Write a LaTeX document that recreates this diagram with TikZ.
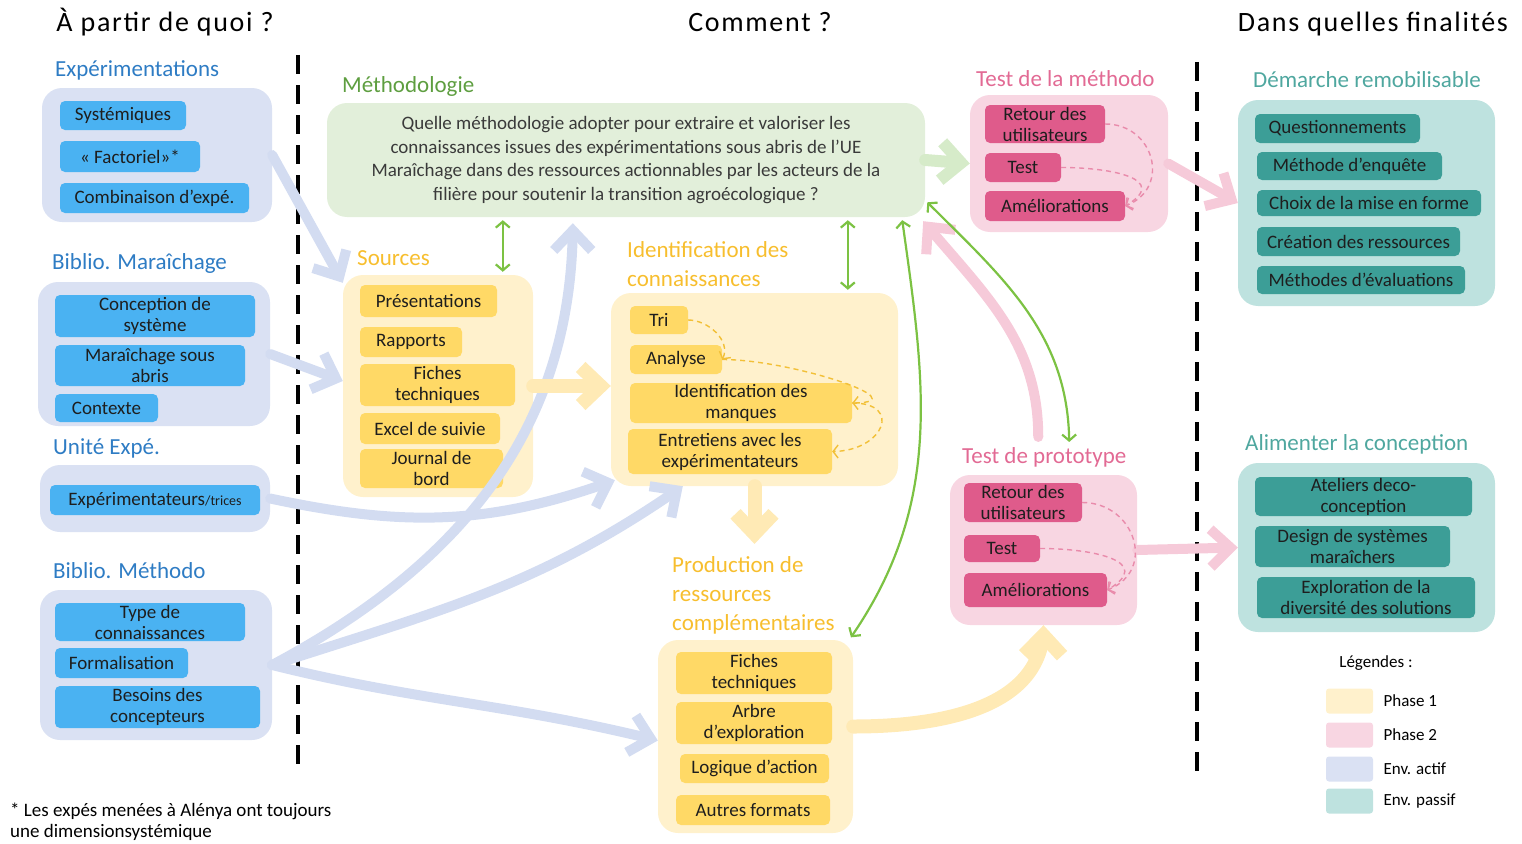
\documentclass[tikz,border=0pt]{standalone}
\usepackage{fontspec}
\setmainfont{Carlito}
\newfontfamily\headfam[LetterSpace=6]{Carlito}
\usepackage{xcolor,tikz}
\usetikzlibrary{arrows.meta,bending}
\definecolor{inkdark}{HTML}{1E1E1E}
\definecolor{actifbg}{HTML}{DAE1F3}
\definecolor{actifbox}{HTML}{4AB2F2}
\definecolor{actifttl}{HTML}{2E7CC4}
\definecolor{actifarr}{HTML}{D3DCF1}
\definecolor{phaseAbg}{HTML}{FFF1CC}
\definecolor{phaseAbox}{HTML}{FFD966}
\definecolor{phaseAttl}{HTML}{F7BE2E}
\definecolor{phaseAarr}{HTML}{FFEAB5}
\definecolor{phaseAdash}{HTML}{F2C037}
\definecolor{phaseBbg}{HTML}{F8D6E2}
\definecolor{phaseBbox}{HTML}{DF5B8B}
\definecolor{phaseBttl}{HTML}{E26A94}
\definecolor{phaseBarr}{HTML}{F6CAD9}
\definecolor{phaseBdash}{HTML}{E98BAB}
\definecolor{passifbg}{HTML}{BEE2DF}
\definecolor{passifbox}{HTML}{3C9E97}
\definecolor{passifttl}{HTML}{4FA79F}
\definecolor{methbg}{HTML}{E2EFDA}
\definecolor{methttl}{HTML}{5E9E40}
\definecolor{methtxt}{HTML}{3A3A3A}
\definecolor{methlink}{HTML}{7CC243}
\definecolor{metharr}{HTML}{D6EBC9}
\newcommand\headfont{\headfam\fontsize{28}{32}\selectfont}
\newcommand\ttlfont{\fontsize{23}{29}\selectfont}
\newcommand\itmfont{\fontsize{19}{21}\selectfont}
\newcommand\methfont{\fontsize{19}{23.5}\selectfont}
\newcommand\legfont{\fontsize{17}{19}\selectfont}
\newcommand\notefont{\fontsize{19}{21}\selectfont}

\begin{document}
\begin{tikzpicture}[x=1pt,y=1pt,
  grp/.style={rounded corners=20pt,inner sep=0pt},
  itm/.style={rounded corners=5pt,inner sep=0pt,align=center,font=\itmfont,text=inkdark},
  ttl/.style={anchor=west,inner sep=0pt,align=left,font=\ttlfont},
  sepline/.style={line width=3.5pt,dash pattern=on 19pt off 11pt},
  bigarr/.style={line width=10pt,line cap=round,-{Straight Barb[length=20pt,width=38pt]}},
  link/.style={draw=methlink,line width=2.2pt,shorten <=3pt,shorten >=3pt,{Straight Barb[length=6pt,width=14pt]}-{Straight Barb[length=6pt,width=14pt]}},
  loopA/.style={draw=phaseAdash,line width=1.4pt,dash pattern=on 5pt off 4pt,-{Straight Barb[length=5pt,width=13pt]}},
  loopB/.style={loopA,draw=phaseBdash},
  swatch/.style={minimum width=47pt,minimum height=25pt,rounded corners=3pt,inner sep=0pt}]
\useasboundingbox (0,0) rectangle (1522,-843);
% headings and separators
\node[font=\headfont] (hFrom) at (165,-22) {À partir de quoi ?};
\node[font=\headfont] (hHow) at (760,-22) {Comment ?};
\node[font=\headfont] (hWhy) at (1373,-24) {Dans quelles finalités};
\draw[sepline] (298,-55) -- (298,-775);
\draw[sepline] (1197,-62) -- (1197,-780);

% env. actif
\node[ttl,text=actifttl] (expeTtl) at (55,-70) {Expérimentations};
\node[grp,fill=actifbg,minimum width=230pt,minimum height=134pt] (expeGrp) at (157,-155) {};
\node[itm,fill=actifbox,minimum width=126pt,minimum height=29pt] (sysItm) at (123,-115.5) {Systémiques};
\node[itm,fill=actifbox,minimum width=140pt,minimum height=31pt] (factItm) at (130,-156.5) {«~Factoriel»*};
\node[itm,fill=actifbox,minimum width=189pt,minimum height=30pt] (combItm) at (154.5,-198) {Combinaison d’expé.};

\node[ttl,text=actifttl] (bmarTtl) at (52,-263) {Biblio. Maraîchage};
\node[grp,fill=actifbg,minimum width=232pt,minimum height=144pt] (bmarGrp) at (154,-354) {};
\node[itm,fill=actifbox,minimum width=200pt,minimum height=42pt] (concItm) at (155,-316) {Conception de\\système};
\node[itm,fill=actifbox,minimum width=190pt,minimum height=41pt] (msaItm) at (150,-365.5) {Maraîchage sous\\abris};
\node[itm,fill=actifbox,minimum width=103pt,minimum height=28pt] (ctxItm) at (106.5,-408) {Contexte};

\node[ttl,text=actifttl] (uexpTtl) at (53,-448) {Unité Expé.};
\node[grp,fill=actifbg,minimum width=230pt,minimum height=67pt] (uexpGrp) at (155,-498.5) {};
\node[itm,fill=actifbox,minimum width=210pt,minimum height=30pt] (exprItm) at (155,-500) {Expérimentateurs{\fontsize{14}{14}\selectfont/trices}};

\node[ttl,text=actifttl] (bmetTtl) at (53,-571) {Biblio. Méthodo};
\node[grp,fill=actifbg,minimum width=232pt,minimum height=150pt] (bmetGrp) at (156,-665) {};
\node[itm,fill=actifbox,minimum width=190pt,minimum height=38pt] (typItm) at (150,-622) {Type de\\connaissances};
\node[itm,fill=actifbox,minimum width=133pt,minimum height=30pt] (formItm) at (121.5,-663) {Formalisation};
\node[itm,fill=actifbox,minimum width=205pt,minimum height=42pt] (besItm) at (157.5,-707) {Besoins des\\concepteurs};

\node[font=\notefont,anchor=west,align=left,inner sep=0pt] (note) at (10,-822) {* Les expés menées à Alénya ont toujours\\une dimensionsystémique};

% methodologie
\node[ttl,text=methttl] (metTtl) at (342,-86) {Méthodologie};
\node[grp,fill=methbg,minimum width=598pt,minimum height=114pt,align=center,font=\methfont,text=methtxt] (metGrp) at (626,-160)
  {Quelle méthodologie adopter pour extraire et valoriser les\\connaissances issues des expérimentations sous abris de l’UE\\Maraîchage dans des ressources actionnables par les acteurs de la\\filière pour soutenir la transition agroécologique ?};

% phase 1
\node[ttl,text=phaseAttl] (srcTtl) at (357,-258) {Sources};
\node[grp,fill=phaseAbg,minimum width=190pt,minimum height=222pt] (srcGrp) at (438,-386) {};
\node[itm,fill=phaseAbox,minimum width=137pt,minimum height=32pt] (presItm) at (428.5,-301) {Présentations};
\node[itm,fill=phaseAbox,minimum width=102pt,minimum height=30pt] (rapItm) at (411,-342) {Rapports};
\node[itm,fill=phaseAbox,minimum width=155pt,minimum height=42pt] (fichItm) at (437.5,-385) {Fiches\\techniques};
\node[itm,fill=phaseAbox,minimum width=140pt,minimum height=31pt] (xlsItm) at (430,-428.5) {Excel de suivie};
\node[itm,fill=phaseAbox,minimum width=143pt,minimum height=39pt] (jouItm) at (431.5,-468.5) {Journal de\\bord};

\node[ttl,text=phaseAttl] (idTtl) at (627,-264) {Identification des\\connaissances};
\node[grp,fill=phaseAbg,minimum width=287pt,minimum height=193pt] (idGrp) at (754.5,-389.5) {};
\node[itm,fill=phaseAbox,minimum width=58pt,minimum height=28pt] (triItm) at (659,-320) {Tri};
\node[itm,fill=phaseAbox,minimum width=92pt,minimum height=29pt] (anaItm) at (676,-359.5) {Analyse};
\node[itm,fill=phaseAbox,minimum width=222pt,minimum height=40pt] (manItm) at (741,-403) {Identification des\\manques};
\node[itm,fill=phaseAbox,minimum width=204pt,minimum height=45pt] (entItm) at (730,-451.5) {Entretiens avec les\\expérimentateurs};

\node[ttl,text=phaseAttl] (prodTtl) at (672,-595) {Production de\\ressources\\complémentaires};
\node[grp,fill=phaseAbg,minimum width=195pt,minimum height=193pt] (prodGrp) at (755.5,-736.5) {};
\node[itm,fill=phaseAbox,minimum width=156pt,minimum height=42pt] (pfItm) at (754,-673) {Fiches\\techniques};
\node[itm,fill=phaseAbox,minimum width=156pt,minimum height=42pt] (arbItm) at (754,-723) {Arbre\\d’exploration};
\node[itm,fill=phaseAbox,minimum width=149pt,minimum height=29pt] (logItm) at (754.5,-768.5) {Logique d’action};
\node[itm,fill=phaseAbox,minimum width=154pt,minimum height=30pt] (autItm) at (753,-810) {Autres formats};

% phase 2
\node[ttl,text=phaseBttl] (tmTtl) at (976,-79) {Test de la méthodo};
\node[grp,fill=phaseBbg,minimum width=198pt,minimum height=137pt] (tmGrp) at (1069,-163.5) {};
\node[itm,fill=phaseBbox,minimum width=120pt,minimum height=38pt] (tmrItm) at (1045,-124) {Retour des\\utilisateurs};
\node[itm,fill=phaseBbox,minimum width=76pt,minimum height=29pt] (tmtItm) at (1023,-167.5) {Test};
\node[itm,fill=phaseBbox,minimum width=140pt,minimum height=30pt] (tmaItm) at (1055,-206) {Améliorations};

\node[ttl,text=phaseBttl] (tpTtl) at (962,-457) {Test de prototype};
\node[grp,fill=phaseBbg,minimum width=187pt,minimum height=150pt] (tpGrp) at (1043.5,-550) {};
\node[itm,fill=phaseBbox,minimum width=118pt,minimum height=39pt] (tprItm) at (1023,-502.5) {Retour des\\utilisateurs};
\node[itm,fill=phaseBbox,minimum width=76pt,minimum height=27pt] (tptItm) at (1002,-548.5) {Test};
\node[itm,fill=phaseBbox,minimum width=143pt,minimum height=34pt] (tpaItm) at (1035.5,-590) {Améliorations};

% env. passif
\node[ttl,text=passifttl] (drTtl) at (1253,-80) {Démarche remobilisable};
\node[grp,fill=passifbg,minimum width=257pt,minimum height=206pt] (drGrp) at (1366.5,-203) {};
\node[itm,fill=passifbox,minimum width=165pt,minimum height=29pt] (qItm) at (1337.5,-128.5) {Questionnements};
\node[itm,fill=passifbox,minimum width=185pt,minimum height=28pt] (meItm) at (1349.5,-166) {Méthode d’enquête};
\node[itm,fill=passifbox,minimum width=224pt,minimum height=26pt] (chItm) at (1369,-203) {Choix de la mise en forme};
\node[itm,fill=passifbox,minimum width=203pt,minimum height=29pt] (crItm) at (1358.5,-241.5) {Création des ressources};
\node[itm,fill=passifbox,minimum width=208pt,minimum height=28pt] (evItm) at (1361,-280) {Méthodes d’évaluations};

\node[ttl,text=passifttl] (alTtl) at (1245,-444) {Alimenter la conception};
\node[grp,fill=passifbg,minimum width=257pt,minimum height=169pt] (alGrp) at (1366.5,-547.5) {};
\node[itm,fill=passifbox,minimum width=217pt,minimum height=39pt] (atItm) at (1363.5,-496.5) {Ateliers deco-\\conception};
\node[itm,fill=passifbox,minimum width=195pt,minimum height=41pt] (deItm) at (1352.5,-546.5) {Design de systèmes\\maraîchers};
\node[itm,fill=passifbox,minimum width=218pt,minimum height=41pt] (exItm) at (1366,-597.5) {Exploration de la\\diversité des solutions};

% legend
\node[font=\legfont] (legTtl) at (1376,-663) {Légendes :};
\foreach \c/\t/\y [count=\i] in {phaseAbg/Phase 1/701,phaseBbg/Phase 2/735,actifbg/Env. actif/769,passifbg/Env. passif/801}{
  \node[swatch,fill=\c] (leg\i) at (1349.5,-\y) {};
  \node[font=\legfont,anchor=west] (legTxt\i) at (1380,-\y) {\t};
}

% big arrows
\draw[bigarr,actifarr] (expeGrp.east) -- ([yshift=-8pt]srcGrp.north west);
\draw[bigarr,actifarr] (bmarGrp.east) -- ([yshift=5pt]srcGrp.west);
\draw[bigarr,actifarr] (uexpGrp.east) to[out=-12,in=200] ([xshift=4pt,yshift=6pt]idGrp.south west);
\draw[bigarr,actifarr] (bmetGrp.east) to[out=28,in=-90] ([xshift=246pt,yshift=-6pt]metGrp.south west);
\draw[bigarr,actifarr] (bmetGrp.east) to[out=18,in=215] ([xshift=72pt]idGrp.south west);
\draw[bigarr,actifarr] (bmetGrp.east) to[out=-14,in=166] ([yshift=-4pt]prodGrp.west);
\draw[bigarr,phaseAarr,line width=14pt] (srcGrp.east) -- (srcGrp.east -| idGrp.west);
\draw[bigarr,phaseAarr,line width=14pt] (idGrp.south) -- ([yshift=12pt]idGrp.south |- prodTtl.north);
\draw[bigarr,phaseAarr,line width=14pt] ([yshift=10pt]prodGrp.east) to[out=0,in=-90] (tpGrp.south);
\draw[bigarr,metharr,line width=12pt] (metGrp.east) -- (tmGrp.west);
\draw[bigarr,phaseBarr] (tmGrp.east) -- (drGrp.west);
\draw[bigarr,phaseBarr] (tpGrp.east) -- (alGrp.west);
\draw[bigarr,phaseBarr] ([xshift=-6pt,yshift=10pt]tpTtl.north) to[out=90,in=-50] ([xshift=-2pt,yshift=-4pt]metGrp.south east);

% green links
\draw[link] ([xshift=176pt]metGrp.south west) -- ([xshift=160pt]srcGrp.north west);
\draw[link] ([xshift=521pt]metGrp.south west) -- ([xshift=237pt]idGrp.north west);
\draw[link] ([xshift=575pt]metGrp.south west) to[out=-82,in=55] ([xshift=-4pt]prodGrp.north east);
\draw[link] ([yshift=17pt]metGrp.south east) to[out=-45,in=90] ([xshift=25pt,yshift=2pt]tpTtl.north);

% dashed loops
\draw[loopA] (triItm.east) to[out=0,in=60] (anaItm.east);
\draw[loopA] (anaItm.east) to[out=0,in=0,looseness=1.3] (manItm.east);
\draw[loopA] (manItm.east) to[out=0,in=0,looseness=2.5] (entItm.east);
\draw[loopB] (tmrItm.east) to[out=0,in=20,looseness=1.5] (tmaItm.east);
\draw[loopB] (tmtItm.east) to[out=0,in=30,looseness=1.8] (tmaItm.east);
\draw[loopB] (tprItm.east) to[out=0,in=20,looseness=1.5] (tpaItm.east);
\draw[loopB] (tptItm.east) to[out=0,in=30,looseness=1.8] (tpaItm.east);
\end{tikzpicture}
\end{document}
